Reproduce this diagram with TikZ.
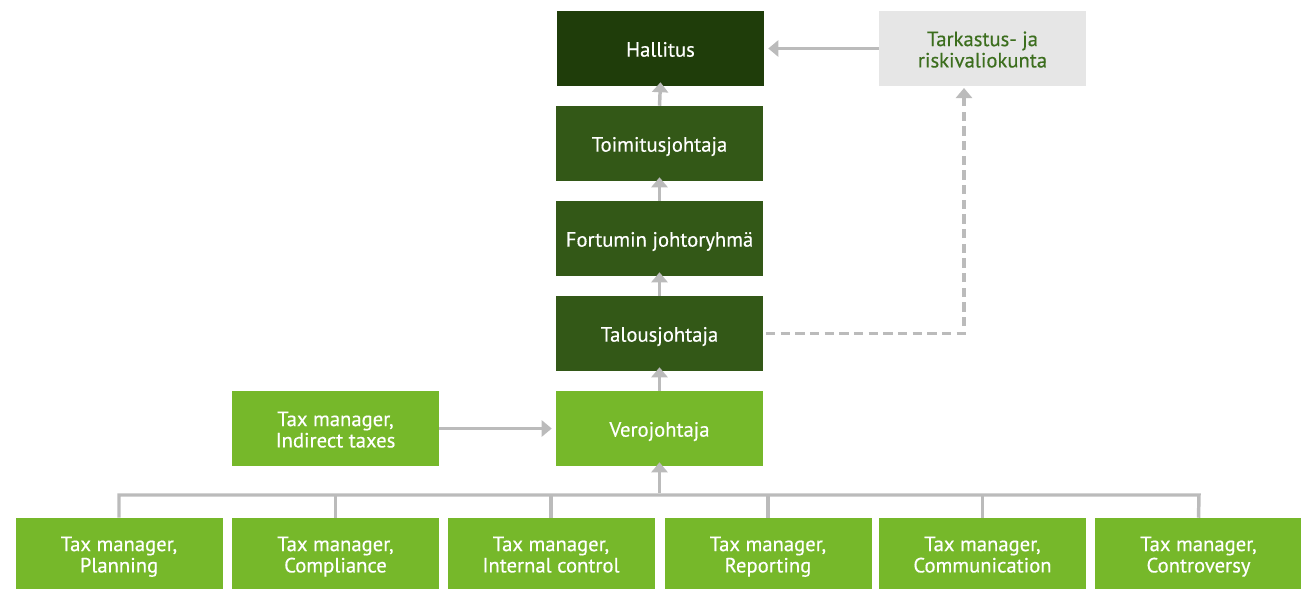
\documentclass[tikz,border=0pt]{standalone}
\usepackage{fontspec}
\setmainfont{PT Sans}
\newfontface\boxfont{PT Sans}[FakeBold=0.4]
\usetikzlibrary{arrows.meta,positioning}
\definecolor{dkgreen}{HTML}{1F3D0A}
\definecolor{midgreen}{HTML}{335817}
\definecolor{ltgreen}{HTML}{76B82A}
\definecolor{ltgray}{HTML}{E6E6E6}
\definecolor{linegray}{HTML}{BBBBBB}
\definecolor{txtgreen}{HTML}{3C6E1E}
\begin{document}
\begin{tikzpicture}[x=0.75pt,y=-0.75pt,
  box/.style={rectangle,inner sep=0pt,align=center,text=white,
    font=\boxfont\fontsize{15.5}{16}\selectfont,minimum width=155.25pt,minimum height=56.25pt,
    execute at begin node={\rule{0pt}{17pt}}, execute at end node=\strut},
  two/.style={text height=30pt,text depth=1.6pt},
  topbox/.style={box,fill=dkgreen},
  midbox/.style={box,fill=midgreen},
  greenbox/.style={box,fill=ltgreen},
  graybox/.style={box,fill=ltgray,text=txtgreen},
  lowbox/.style={box,two,fill=ltgreen,minimum height=53.25pt},
  conn/.style={draw=linegray,line width=2.6pt},
  arr/.style={conn,-{Triangle[width=12pt,length=7.5pt]}},
  dasharr/.style={conn,dash pattern=on 7pt off 4pt,-{Triangle[width=12pt,length=7.5pt]}}
]
\useasboundingbox (0,0) rectangle (1301,589);
\node[topbox] (hal) at (660.5,48.5) {Hallitus};
\node[graybox,two] (tark) at (982.5,48.5) {Tarkastus- ja\\riskivaliokunta};
\node[midbox] (toim) at (659.5,143.5) {Toimitusjohtaja};
\node[midbox] (fort) at (659.5,238.5) {Fortumin johtoryhmä};
\node[midbox] (talo) at (659.5,333.5) {Talousjohtaja};
\node[greenbox] (vero) at (659.5,428.5) {Verojohtaja};
\node[greenbox,two] (indi) at (335.5,428.5) {Tax manager,\\Indirect taxes};
\node[lowbox] (plan) at (119,553.5) {Tax manager,\\Planning};
\node[lowbox] (comp) at (335.5,553.5) {Tax manager,\\Compliance};
\node[lowbox] (intc) at (551,553.5) {Tax manager,\\Internal control};
\node[lowbox] (repo) at (768,553.5) {Tax manager,\\Reporting};
\node[lowbox] (comm) at (982.5,553.5) {Tax manager,\\Communication};
\node[lowbox] (cont) at (1198.5,553.5) {Tax manager,\\Controversy};

\draw[arr] (toim.north) -- ([yshift=3pt]hal.south);
\draw[arr] (fort.north) -- ([yshift=3pt]toim.south);
\draw[arr] (talo.north) -- ([yshift=3pt]fort.south);
\draw[arr] (vero.north) -- ([yshift=3pt]talo.south);
\draw[arr] (tark.west) -- ([xshift=3pt]hal.east);
\draw[arr] (indi.east) -- ([xshift=-3pt]vero.west);
\coordinate (dcorner) at (964,333.5);
\coordinate (dend) at (964,88);
\draw[dasharr] ([xshift=2pt]talo.east) -- (dcorner) -- (dend);

\coordinate (busL) at (119,495);
\coordinate (busR) at (1199,495);
\coordinate (busM) at (659.5,495);
\draw[conn] (plan.north) -- (busL) -- (busR) -- (cont.north);
\draw[conn] (comp.north) -- (comp.north |- busL);
\draw[conn] (intc.north) -- (intc.north |- busL);
\draw[conn] (repo.north) -- (repo.north |- busL);
\draw[conn] (comm.north) -- (comm.north |- busL);
\draw[arr] ([yshift=1.2pt]busM) -- ([yshift=3pt]vero.south);
\end{tikzpicture}
\end{document}
